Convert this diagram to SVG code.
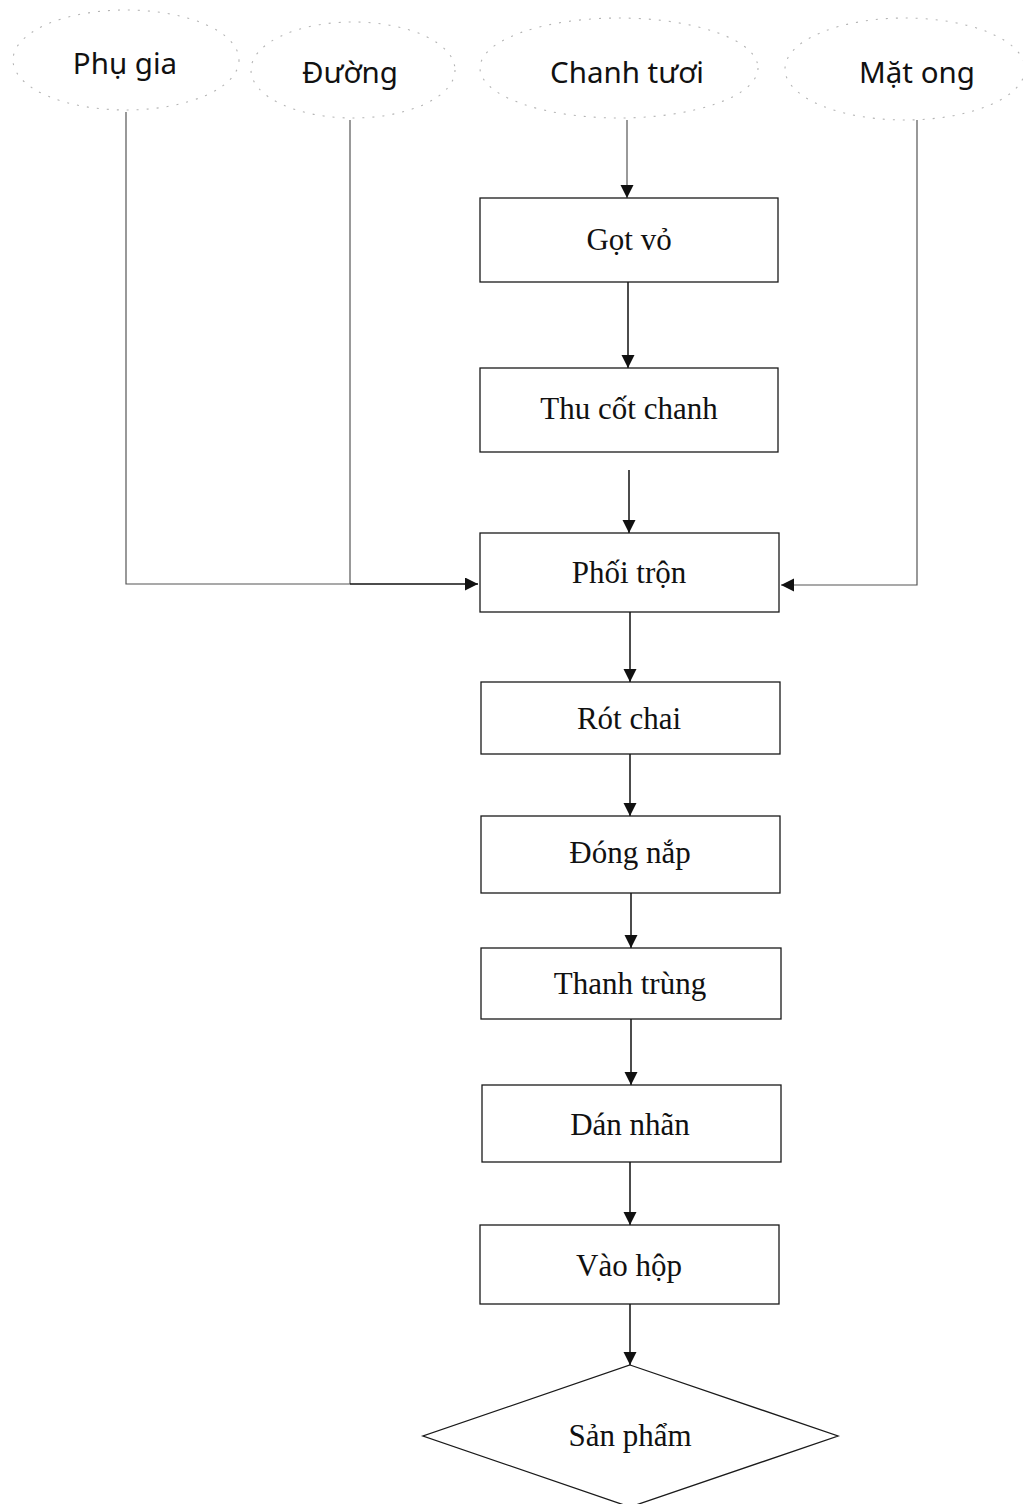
<svg xmlns="http://www.w3.org/2000/svg" width="1023" height="1504" viewBox="0 0 1023 1504">
  <style>
    .ing { fill: none; stroke: #b4b4b4; stroke-width: 1.1; stroke-dasharray: 2 8; }
    .ing-t { font-family: "Noto Sans", "Open Sans", sans-serif; font-size: 29.5px; fill: #111; text-anchor: middle; }
    .box { fill: #fff; stroke: #1a1a1a; stroke-width: 1.3; }
    .box-t { font-family: "Liberation Serif", "Times New Roman", serif; font-size: 31px; fill: #111; text-anchor: middle; }
    .feed { fill: none; stroke: #555; stroke-width: 1.2; }
    .flow { fill: none; stroke: #111; stroke-width: 1.5; }
  </style>
  <defs>
    <marker id="arrow" markerUnits="userSpaceOnUse" markerWidth="14" markerHeight="14" refX="13" refY="6.5" orient="auto">
      <path d="M0,0 L13,6.5 L0,13 z" fill="#111"/>
    </marker>
  </defs>

  <rect width="1023" height="1504" fill="#fff"/>

  <!-- ingredients -->
  <g id="phu-gia">
    <ellipse class="ing" cx="126" cy="60" rx="113" ry="50"/>
    <text class="ing-t" x="125" y="74">Phụ gia</text>
  </g>
  <g id="duong">
    <ellipse class="ing" cx="353" cy="70" rx="102" ry="48"/>
    <text class="ing-t" x="350" y="83">Đường</text>
  </g>
  <g id="chanh-tuoi">
    <ellipse class="ing" cx="619" cy="68" rx="139" ry="50"/>
    <text class="ing-t" x="627" y="83">Chanh tươi</text>
  </g>
  <g id="mat-ong">
    <ellipse class="ing" cx="905" cy="69" rx="120" ry="51"/>
    <text class="ing-t" x="917" y="83">Mặt ong</text>
  </g>

  <!-- connectors -->
  <g id="connectors">
    <polyline class="feed" points="126,112 126,584 350,584"/>
    <polyline class="feed" points="350,120 350,584"/>
    <line class="flow" x1="350" y1="584" x2="478" y2="584" marker-end="url(#arrow)"/>
    <polyline class="feed" points="917,120 917,585 781,585" marker-end="url(#arrow)"/>
    <line class="feed" x1="627" y1="120" x2="627" y2="198" marker-end="url(#arrow)"/>
    <line class="flow" x1="628" y1="282" x2="628" y2="368" marker-end="url(#arrow)"/>
    <line class="flow" x1="629" y1="470" x2="629" y2="533" marker-end="url(#arrow)"/>
    <line class="flow" x1="630" y1="612" x2="630" y2="682" marker-end="url(#arrow)"/>
    <line class="flow" x1="630" y1="754" x2="630" y2="816" marker-end="url(#arrow)"/>
    <line class="flow" x1="631" y1="893" x2="631" y2="948" marker-end="url(#arrow)"/>
    <line class="flow" x1="631" y1="1019" x2="631" y2="1085" marker-end="url(#arrow)"/>
    <line class="flow" x1="630" y1="1162" x2="630" y2="1225" marker-end="url(#arrow)"/>
    <line class="flow" x1="630" y1="1304" x2="630" y2="1365" marker-end="url(#arrow)"/>
  </g>

  <!-- process steps -->
  <g id="got-vo">
    <rect class="box" x="480" y="198" width="298" height="84"/>
    <text class="box-t" x="629" y="250">Gọt vỏ</text>
  </g>
  <g id="thu-cot-chanh">
    <rect class="box" x="480" y="368" width="298" height="84"/>
    <text class="box-t" x="629" y="419">Thu cốt chanh</text>
  </g>
  <g id="phoi-tron">
    <rect class="box" x="480" y="533" width="299" height="79"/>
    <text class="box-t" x="629" y="583">Phối trộn</text>
  </g>
  <g id="rot-chai">
    <rect class="box" x="481" y="682" width="299" height="72"/>
    <text class="box-t" x="629" y="729">Rót chai</text>
  </g>
  <g id="dong-nap">
    <rect class="box" x="481" y="816" width="299" height="77"/>
    <text class="box-t" x="630" y="863">Đóng nắp</text>
  </g>
  <g id="thanh-trung">
    <rect class="box" x="481" y="948" width="300" height="71"/>
    <text class="box-t" x="630" y="994">Thanh trùng</text>
  </g>
  <g id="dan-nhan">
    <rect class="box" x="482" y="1085" width="299" height="77"/>
    <text class="box-t" x="630" y="1135">Dán nhãn</text>
  </g>
  <g id="vao-hop">
    <rect class="box" x="480" y="1225" width="299" height="79"/>
    <text class="box-t" x="629" y="1276">Vào hộp</text>
  </g>

  <!-- product -->
  <g id="san-pham">
    <polygon class="box" points="630,1365 838,1436 630,1507 423,1436"/>
    <text class="box-t" x="630" y="1446">Sản phẩm</text>
  </g>
</svg>
